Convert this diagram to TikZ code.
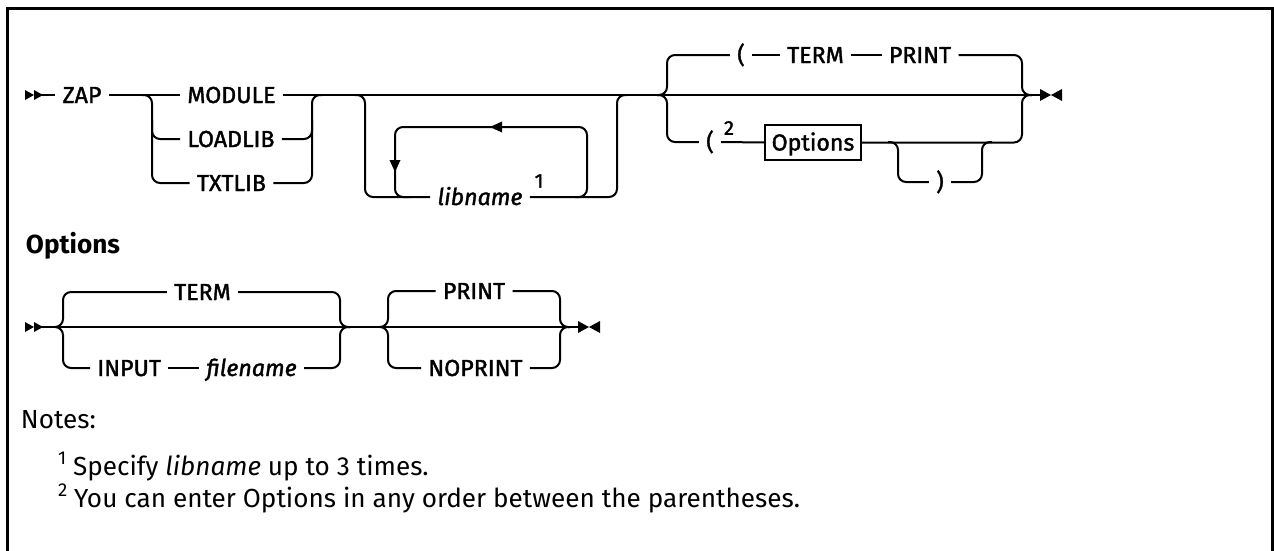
\documentclass[tikz,border=0pt]{standalone}
\usepackage{fontspec}
\setmainfont{Fira Sans}
\newfontfamily\labfont[FakeBold=1.6]{Fira Sans}
\newcommand{\notesup}[1]{\raisebox{0.42em}{\fontsize{14}{16}\selectfont #1}}
\tikzset{
 rr/.style={rounded corners=6pt},
 lab/.style={font=\labfont\fontsize{17.4}{20}\selectfont, inner xsep=4.8pt, inner ysep=0pt, text height=12pt, text depth=0pt},
 labit/.style={lab, font=\labfont\itshape\fontsize{17.4}{20}\selectfont},
 supnum/.style={font=\labfont\fontsize{15}{17}\selectfont, inner sep=0pt},
 optbox/.style={lab, draw, minimum width=69pt, minimum height=26.25pt},
 heading/.style={font=\bfseries\fontsize{19.6}{23}\selectfont, inner sep=0pt, anchor=base west},
 note/.style={font=\fontsize{19.6}{23}\selectfont, inner sep=0pt, anchor=base west},
}
\begin{document}
\begin{tikzpicture}[x=0.75pt,y=-0.75pt,line width=1.5pt]
\useasboundingbox (0,0) rectangle (1274,550);
\draw[line width=2.2pt] (7.5,560) -- (7.5,8.5) -- (1272.5,8.5) -- (1272.5,560);

% ---------- main diagram ----------
\coordinate (st1) at (34,95);
\fill (25,90) -- (34,95) -- (25,100) -- cycle;
\fill (34,90) -- (43,95) -- (34,100) -- cycle;
\node[lab] (zap) at (82,95) {ZAP};
\draw (st1) -- (zap.west);

\node[lab] (module) at (231.5,95) {MODULE};
\node[lab] (loadlib) at (231,139) {LOADLIB};
\node[lab] (txtlib) at (231.5,183) {TXTLIB};
\draw (zap.east) -- (module.west);
\coordinate (en1) at (1040,95);
\draw (module.east) -- (en1);
\fill (1040,89) -- (1051,95) -- (1040,101) -- cycle;
\fill (1062,89) -- (1051,95) -- (1062,101) -- cycle;

\coordinate (a1) at (142,95);
\coordinate (a2) at (322,95);
\draw[rr] (a1) -- (152,95) |- (txtlib.west);
\draw[rr] (152,120) |- (loadlib.west);
\draw[rr] (txtlib.east) -| (312,95) -- (a2);
\draw[rr] (loadlib.east) -| (312,120);

% libname repeat group
\node[labit] (libname) at (480,197) {libname};
\node[supnum] (fn1) at (539,181) {1};
\coordinate (b1) at (355,95);
\coordinate (b2) at (627,95);
\draw[rr] (b1) -- (365,95) |- (libname.west);
\draw[rr] (libname.east) -| (617,95) -- (b2);
\draw[rr] (575,197) -| (587,127) -| (395,197) -- (410,197);
\fill (490,127) -- (502,121.5) -- (502,132.5) -- cycle;
\fill (395,172) -- (389.5,160) -- (400.5,160) -- cycle;

% parenthesised options group
\node[lab] (lp1) at (741,55) {(};
\node[lab] (term1) at (815.5,55) {TERM};
\node[lab] (print1) at (920,55) {PRINT};
\node[lab] (lp2) at (710,142) {(};
\node[supnum] (fn2) at (729,128) {2};
\node[optbox] (optbox) at (813,142.5) {Options};
\node[lab] (rp) at (940,182) {)};
\coordinate (c1) at (657,95);
\coordinate (c2) at (1032,95);
\draw[rr] (c1) -- (667,95) |- (lp1.west);
\draw[rr] (c1) -- (667,95) |- (lp2.west);
\draw (lp1.east) -- (term1.west);
\draw (term1.east) -- (print1.west);
\draw[rr] (print1.east) -| (1022,95) -- (c2);
\draw (lp2.east) -- (optbox.west);
\draw[rr] (optbox.east) -| (1022,95) -- (c2);
\draw[rr] (888,142) -- (898,142) |- (rp.west);
\draw[rr] (rp.east) -| (982,142) -- (992,142);

% ---------- Options fragment ----------
\node[heading] (opthead) at (25,253) {Options};
\coordinate (st2) at (34,327);
\fill (25,322) -- (34,327) -- (25,332) -- cycle;
\fill (34,322) -- (43,327) -- (34,332) -- cycle;
\coordinate (en2) at (578,327);
\draw (st2) -- (en2);
\fill (578,321) -- (589,327) -- (578,333) -- cycle;
\fill (600,321) -- (589,327) -- (600,333) -- cycle;

\node[lab] (term2) at (202.5,292) {TERM};
\node[lab, anchor=west] (input) at (90,368) {INPUT};
\node[labit] (filename) at (251.5,368) {filename};
\node[lab] (print2) at (474,291) {PRINT};
\node[lab, anchor=west] (noprint) at (421,368) {NOPRINT};
\coordinate (d1) at (55,327);
\coordinate (d2) at (350,327);
\coordinate (e1) at (380,327);
\coordinate (e2) at (570,327);
\draw[rr] (d1) -- (63,327) |- (term2.west);
\draw[rr] (d1) -- (63,327) |- (input.west);
\draw (input.east) -- (filename.west);
\draw[rr] (term2.east) -| (340,327) -- (d2);
\draw[rr] (filename.east) -| (340,327) -- (d2);
\draw[rr] (e1) -- (388,327) |- (print2.west);
\draw[rr] (e1) -- (388,327) |- (noprint.west);
\draw[rr] (print2.east) -| (560,327) -- (e2);
\draw[rr] (noprint.east) -| (560,327) -- (e2);

% ---------- notes ----------
\node[note] (notes) at (20,428) {Notes:};
\node[note] (note1) at (57,475) {\notesup{1} Specify \textit{libname} up to 3 times.};
\node[note] (note2) at (57,507) {\notesup{2} You can enter Options in any order between the parentheses.};
\end{tikzpicture}
\end{document}
